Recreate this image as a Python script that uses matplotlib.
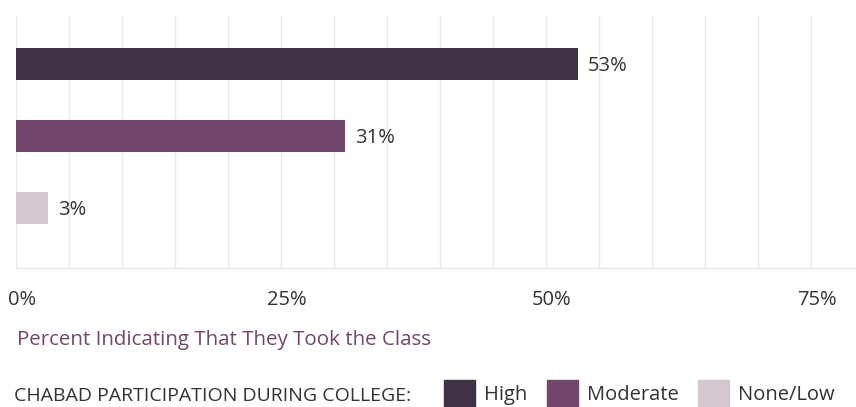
import matplotlib
matplotlib.use("Agg")
import matplotlib.pyplot as plt
import matplotlib.transforms as mtransforms
from matplotlib.patches import Rectangle

# data
groups = ["High", "Moderate", "None/Low"]
values = [53, 31, 3]
colors = ["#3f3245", "#72466b", "#d4c8d0"]
tick_vals = [0, 25, 50, 75]
tick_labels = ["0%", "25%", "50%", "75%"]
x_title = "Percent Indicating That They Took the Class"
legend_title = "CHABAD PARTICIPATION DURING COLLEGE:"

plt.rcParams['font.family'] = ['Open Sans', 'DejaVu Sans']
txt = "#333333"
W, H = 856, 407
fig = plt.figure(figsize=(W / 100, H / 100), dpi=100)
ax = fig.add_axes([16 / W, 1 - 268 / H, (855 - 16) / W, 252 / H])

ypos = list(range(len(groups)))
ax.barh(ypos, values, height=0.45, color=colors, zorder=3)
for y, v in zip(ypos, values):
    ax.annotate(f"{v}%", (v, y), xytext=(7.5, -1.5), textcoords="offset points",
                va="center", ha="left", fontsize=14.5, color=txt)

ax.set_xlim(0, 79.15)
ax.set_ylim(2.83, -0.67)
ax.set_yticks([])
for g in range(0, 80, 5):
    ax.axvline(g, color="#e9e9e9", lw=1, zorder=1)
ax.set_xticks(tick_vals)
ax.set_xticklabels(tick_labels, fontsize=14.5, color=txt)
ax.tick_params(axis="x", length=0, pad=16)
offset = mtransforms.ScaledTranslation(6 / 100, 0, fig.dpi_scale_trans)
for lab in ax.get_xticklabels():
    lab.set_transform(lab.get_transform() + offset)
for s in ["top", "right", "left"]:
    ax.spines[s].set_visible(False)
ax.spines["bottom"].set_color("#e3e3e3")

fig.text(17 / W, 1 - 340 / H, x_title, fontsize=14.75, color="#72466b",
         va="center", ha="left")

# legend row
fig.text(14 / W, 1 - 396 / H, legend_title, fontsize=14, color=txt,
         va="center", ha="left")
sq_x = [444, 547, 698]
for x0, g, c in zip(sq_x, groups, colors):
    fig.patches.append(Rectangle((x0 / W, 1 - 407 / H), 31 / W, 27 / H,
                                 transform=fig.transFigure, color=c))
    fig.text((x0 + 40) / W, 1 - 395 / H, g, fontsize=14.5, color=txt,
             va="center", ha="left")

fig.savefig("out.png", dpi=100)
